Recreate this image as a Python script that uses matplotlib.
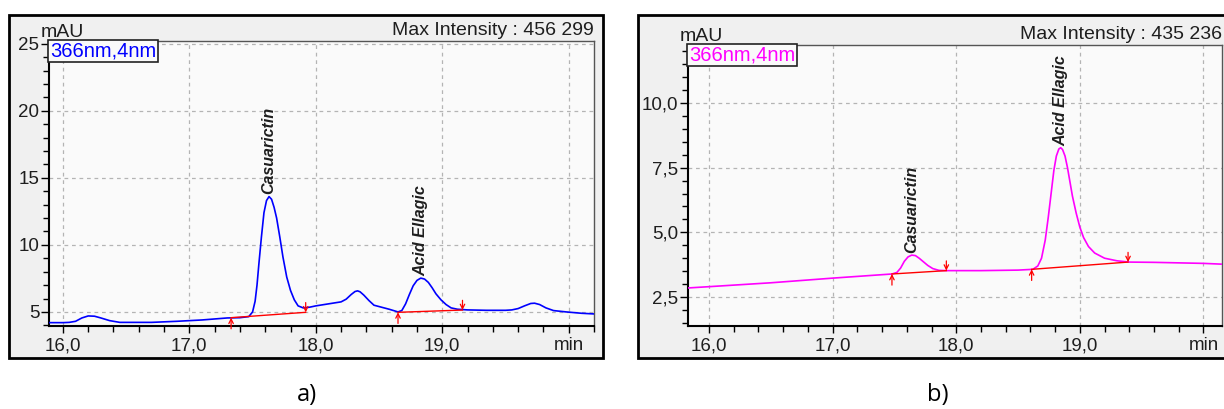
"""
HPLC chromatograms at 366 nm, two samples side by side (a) and (b).
"""
import numpy as np
import matplotlib
matplotlib.use("Agg")
import matplotlib.pyplot as plt
from matplotlib.patches import Rectangle
from matplotlib.ticker import MultipleLocator, FuncFormatter

plt.rcParams["font.family"] = ["Liberation Sans", "DejaVu Sans"]

W, H = 1224, 409

# ---- panel a: retention time (min) / absorbance (mAU) ----
TIME_A = [15.89, 16.0, 16.05, 16.1, 16.15, 16.2, 16.25, 16.3, 16.37, 16.45,
          16.7, 16.9, 17.1, 17.3, 17.4, 17.47, 17.5, 17.52, 17.535, 17.55,
          17.57, 17.59, 17.61, 17.63, 17.65, 17.67, 17.69, 17.715, 17.74, 17.77,
          17.8, 17.83, 17.86, 17.9, 17.95, 18.0, 18.1, 18.2, 18.24, 18.28,
          18.31, 18.33, 18.35, 18.38, 18.42, 18.46, 18.52, 18.58, 18.65, 18.68,
          18.71, 18.74, 18.77, 18.8, 18.83, 18.86, 18.89, 18.92, 18.95, 18.99,
          19.03, 19.07, 19.12, 19.2, 19.35, 19.5, 19.55, 19.6, 19.65, 19.7,
          19.73, 19.77, 19.82, 19.88, 19.98, 20.1, 20.2]
ABS_A = [4.2, 4.2, 4.22, 4.3, 4.55, 4.7, 4.68, 4.55, 4.35, 4.22,
         4.22, 4.3, 4.4, 4.55, 4.57, 4.65, 5.0, 5.8, 7.0, 8.6,
         10.6, 12.4, 13.3, 13.6, 13.4, 12.8, 12.0, 10.6, 9.1, 7.6,
         6.6, 5.9, 5.45, 5.3, 5.35, 5.45, 5.6, 5.75, 5.95, 6.3,
         6.52, 6.57, 6.5, 6.25, 5.85, 5.5, 5.35, 5.2, 5.0, 5.1,
         5.6, 6.3, 6.95, 7.35, 7.52, 7.45, 7.2, 6.8, 6.35, 5.9,
         5.55, 5.3, 5.2, 5.15, 5.12, 5.12, 5.15, 5.25, 5.45, 5.63,
         5.65, 5.55, 5.3, 5.1, 5.0, 4.9, 4.85]
BASE_A_T = [[17.33, 17.92], [18.65, 19.16]]
BASE_A_Y = [[4.57, 4.97], [4.97, 5.14]]
PEAK_T_A = [17.63, 18.83]

# ---- panel b ----
TIME_B = [15.83, 16.0, 16.5, 17.0, 17.3, 17.48, 17.52, 17.55, 17.58, 17.61,
          17.64, 17.67, 17.7, 17.73, 17.77, 17.81, 17.86, 17.92, 18.2, 18.5,
          18.62, 18.66, 18.69, 18.72, 18.745, 18.77, 18.79, 18.81, 18.83, 18.845,
          18.86, 18.88, 18.9, 18.92, 18.94, 18.97, 19.0, 19.03, 19.07, 19.12,
          19.2, 19.3, 19.4, 19.6, 19.8, 20.0, 20.15]
ABS_B = [2.85, 2.9, 3.05, 3.23, 3.33, 3.39, 3.45, 3.62, 3.88, 4.05,
         4.12, 4.1, 4.0, 3.88, 3.72, 3.6, 3.53, 3.52, 3.52, 3.54,
         3.57, 3.7, 4.0, 4.7, 5.6, 6.6, 7.4, 7.95, 8.22, 8.27,
         8.2, 7.95, 7.5, 6.95, 6.4, 5.75, 5.2, 4.8, 4.45, 4.2,
         4.0, 3.9, 3.85, 3.84, 3.82, 3.8, 3.77]
BASE_B_T = [[17.48, 17.92], [18.61, 19.39]]
BASE_B_Y = [[3.39, 3.52], [3.57, 3.85]]
PEAK_T_B = [17.64, 18.845]

PEAK_NAMES = ["Casuarictin", "Acid Ellagic"]

TXT = "#1e1e1e"


def px_box(x0, y0, x1, y1):
    """Pixel box (top-left origin) -> figure fraction rect."""
    return [x0 / W, 1 - y1 / H, (x1 - x0) / W, (y1 - y0) / H]


def comma(v, dec):
    return f"{v:.{dec}f}".replace(".", ",")


def draw_panel(fig, frame, rect, t, y, base_t, base_y, peak_t, color,
               xlim, ylim, ymaj, ymin, ydec, intensity):
    fig.patches.append(Rectangle((frame[0], frame[1]), frame[2], frame[3],
                                 transform=fig.transFigure, facecolor="#f0f0f0",
                                 edgecolor="black", linewidth=2, zorder=-1))
    ax = fig.add_axes(rect)
    ax.set_facecolor("#fafafa")

    ax.plot(t, y, color=color, lw=1.2, zorder=3)
    arrow = dict(arrowstyle="->", color="red", lw=0.9, mutation_scale=8,
                 shrinkA=0, shrinkB=0)
    for bt, by in zip(base_t, base_y):
        ax.plot(bt, by, color="red", lw=1.0, zorder=4)
        ax.annotate("", xy=(bt[0], by[0]), xytext=(0, -8),
                    textcoords="offset points", arrowprops=arrow, zorder=5)
        ax.annotate("", xy=(bt[1], by[1]), xytext=(0, 7),
                    textcoords="offset points", arrowprops=arrow, zorder=5)

    for name, pt in zip(PEAK_NAMES, peak_t):
        py = np.interp(pt, t, y)
        ax.annotate(name, xy=(pt, py), xytext=(0, 1.5), textcoords="offset points",
                    rotation=90, ha="center", va="bottom", fontsize=11.5,
                    fontweight="bold", fontstyle="italic", color=TXT)

    ax.set_xlim(*xlim)
    ax.set_ylim(*ylim)
    ax.xaxis.set_major_locator(MultipleLocator(1.0))
    ax.xaxis.set_minor_locator(MultipleLocator(0.2))
    ax.yaxis.set_major_locator(MultipleLocator(ymaj))
    ax.yaxis.set_minor_locator(MultipleLocator(ymin))
    ax.xaxis.set_major_formatter(FuncFormatter(
        lambda v, p: "min" if abs(v - 20) < 1e-6 else comma(v, 1)))
    ax.yaxis.set_major_formatter(FuncFormatter(lambda v, p: comma(v, ydec)))
    ax.tick_params(axis="x", which="major", length=5, width=1, pad=3,
                   labelsize=13.5, labelcolor=TXT)
    ax.tick_params(axis="x", which="minor", length=4, width=1)
    ax.tick_params(axis="y", which="major", length=6, width=1, pad=1,
                   labelsize=13.5, labelcolor=TXT)
    ax.tick_params(axis="y", which="minor", length=4, width=1)

    ax.grid(True, which="major", color="#b4b4b4", lw=0.9, ls=(0, (3, 3)), zorder=1)
    for s in ("left", "bottom"):
        ax.spines[s].set_color("black")
        ax.spines[s].set_linewidth(1.5)
    for s in ("top", "right"):
        ax.spines[s].set_color("#555555")
        ax.spines[s].set_linewidth(1.0)

    ax.text(0.002, 0.997, "366nm,4nm", transform=ax.transAxes, ha="left", va="top",
            fontsize=14.5, color=color, zorder=6,
            bbox=dict(boxstyle="square,pad=0.08", fc="#fafafa", ec="#222222", lw=1.2))
    ax.annotate("mAU", xy=(0, 1), xycoords="axes fraction", xytext=(-6, 3),
                textcoords="offset points", ha="left", va="baseline",
                fontsize=14, color=TXT)
    ax.annotate(f"Max Intensity : {intensity}", xy=(1, 1), xycoords="axes fraction",
                xytext=(0, 4.5), textcoords="offset points", ha="right",
                va="baseline", fontsize=14, color=TXT)
    return ax


def make_figure(save_path="out.png"):
    fig = plt.figure(figsize=(W / 100, H / 100), dpi=100)

    draw_panel(fig, px_box(9, 15, 603, 358), px_box(49, 41, 594, 326),
               TIME_A, ABS_A, BASE_A_T, BASE_A_Y, PEAK_T_A, "#0000ff",
               (15.89, 20.2), (3.95, 25.2), 5, 1, 0, "456 299")
    draw_panel(fig, px_box(638, 15, 1240, 358), px_box(688, 45, 1222, 326),
               TIME_B, ABS_B, BASE_B_T, BASE_B_Y, PEAK_T_B, "#ff00ff",
               (15.83, 20.15), (1.38, 12.24), 2.5, 0.5, 1, "435 236")

    fig.text(307 / W, 1 - 395 / H, "a)", ha="center", va="center",
             fontsize=17, family="Open Sans", color="black")
    fig.text(938 / W, 1 - 395 / H, "b)", ha="center", va="center",
             fontsize=17, family="Open Sans", color="black")

    fig.savefig(save_path, dpi=100, facecolor="white")
    return fig


if __name__ == "__main__":
    make_figure("out.png")
